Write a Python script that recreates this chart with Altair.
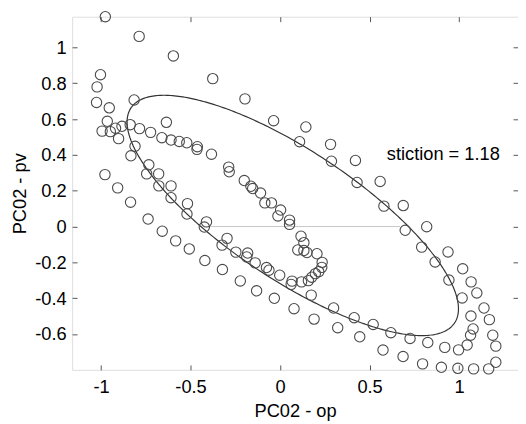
import altair as alt
import numpy as np
import pandas as pd

# ---- scatter data ----
op = [-0.976, -0.787, -0.596, -0.376, -0.196, -0.036, 0.144, 0.109, 0.282, 0.287,
      0.421, 0.430, 0.559, 0.580, 0.688, 0.699, 0.819, 0.791, 0.938, 0.866,
      1.020, 0.943, 1.067, 1.099, 1.017, 1.139, 1.066, 1.169, 1.078, 1.188,
      1.064, 1.045, 1.205, 1.205, 1.165, 1.081, 0.993, 0.901, 0.796, 0.687,
      0.575, 0.445, 0.322, 0.190, 0.078, -0.032, -0.131, -0.222, -0.322, -0.420,
      -0.507, -0.583, -0.658, -0.737, -0.835, -0.907, -0.978, 0.997, 0.920, 0.825,
      0.726, 0.619, 0.520, 0.414, 0.299, 0.174, -1.003, -1.022, -1.025, -0.954,
      -0.815, -0.635, -0.965, -0.994, -0.948, -0.919, -0.883, -0.837, -0.902, -0.785,
      -0.723, -0.660, -0.609, -0.563, -0.521, -0.462, -0.464, -0.383, -0.287, -0.284,
      -0.200, -0.163, -0.153, -0.109, -0.085, -0.048, 0.003, -0.012, 0.053, 0.053,
      0.117, 0.133, 0.099, 0.133, 0.150, 0.206, 0.235, 0.233, 0.216, 0.197,
      0.177, 0.158, 0.120, 0.067, 0.062, -0.002, -0.062, -0.076, -0.810, -0.833,
      -0.733, -0.745, -0.678, -0.677, -0.609, -0.609, -0.517, -0.520, -0.411, -0.423,
      -0.296, -0.324, -0.247, -0.181, -0.186, -0.139]
pv = [1.172, 1.062, 0.953, 0.826, 0.713, 0.591, 0.556, 0.474, 0.459, 0.365,
      0.369, 0.246, 0.252, 0.114, 0.117, -0.021, -0.001, -0.115, -0.142, -0.198,
      -0.236, -0.299, -0.309, -0.371, -0.399, -0.455, -0.500, -0.520, -0.572, -0.607,
      -0.607, -0.662, -0.668, -0.758, -0.795, -0.795, -0.792, -0.786, -0.767, -0.726,
      -0.690, -0.616, -0.565, -0.517, -0.459, -0.401, -0.359, -0.304, -0.240, -0.190,
      -0.125, -0.080, -0.026, 0.042, 0.136, 0.216, 0.290, -0.689, -0.675, -0.648,
      -0.625, -0.593, -0.547, -0.509, -0.455, -0.383, 0.848, 0.780, 0.693, 0.663,
      0.707, 0.582, 0.588, 0.533, 0.530, 0.549, 0.560, 0.569, 0.491, 0.547,
      0.526, 0.496, 0.483, 0.475, 0.468, 0.446, 0.431, 0.404, 0.332, 0.306,
      0.257, 0.225, 0.212, 0.187, 0.132, 0.132, 0.092, 0.059, 0.036, 0.012,
      -0.054, -0.090, -0.131, -0.134, -0.145, -0.152, -0.200, -0.228, -0.252, -0.263,
      -0.283, -0.302, -0.309, -0.305, -0.323, -0.272, -0.244, -0.229, 0.448, 0.395,
      0.345, 0.294, 0.294, 0.227, 0.227, 0.161, 0.128, 0.070, 0.026, -0.003,
      -0.066, -0.104, -0.143, -0.148, -0.170, -0.203]

# ---- fitted ellipse parameters (centre, semi-axes, rotation) ----
ell_cx, ell_cy = 0.071, 0.062
ell_a, ell_b = 1.085, 0.36
ell_angle_deg = -33.6

# ---- horizontal reference segment at pv = 0 ----
ref_op = [-0.40, 0.67]
ref_pv = [0.0, 0.0]

# ---- annotation ----
label_text = ["stiction = 1.18"]
label_op = [0.596]
label_pv = [0.37]

# ---- axes ----
x_ticks = [-1, -0.5, 0, 0.5, 1]
y_ticks = [-0.6, -0.4, -0.2, 0, 0.2, 0.4, 0.6, 0.8, 1]
x_domain = [-1.1614, 1.3289]
y_domain = [-0.8006, 1.1719]

W, H = 452, 358
FONT = "Liberation Sans"
FS = 18.5
AXC = "#555555"

scatter_df = pd.DataFrame({"op": op, "pv": pv})

th = np.deg2rad(ell_angle_deg)
t = np.linspace(0, 2 * np.pi, 361)
ell_df = pd.DataFrame({
    "op": ell_cx + ell_a * np.cos(t) * np.cos(th) - ell_b * np.sin(t) * np.sin(th),
    "pv": ell_cy + ell_a * np.cos(t) * np.sin(th) + ell_b * np.sin(t) * np.cos(th),
    "i": np.arange(len(t)),
})
ref_df = pd.DataFrame({"op": ref_op, "pv": ref_pv})
lab_df = pd.DataFrame({"op": label_op, "pv": label_pv, "txt": label_text})

x_enc = alt.X(
    "op:Q",
    scale=alt.Scale(domain=x_domain, nice=False, zero=False),
    axis=alt.Axis(
        values=x_ticks, labelExpr="'' + datum.value",
        title="PC02 - op", titleFont=FONT, titleFontSize=FS, titleFontWeight="normal",
        titleColor="black", titleX=W / 2, titleY=47, titleBaseline="alphabetic",
        titleAlign="center",
        labelFont=FONT, labelFontSize=FS, labelColor="black", labelPadding=23,
        labelBaseline="alphabetic", labelFlush=False, labelOverlap=False,
        ticks=False, tickSize=0, domain=False,
        grid=True, gridColor=AXC, gridWidth=1, gridOpacity=1,
        gridDash=[5, H - 10, 5, 2000],
    ),
)
y_enc = alt.Y(
    "pv:Q",
    scale=alt.Scale(domain=y_domain, nice=False, zero=False),
    axis=alt.Axis(
        values=y_ticks, labelExpr="'' + datum.value",
        title="PC02 - pv", titleFont=FONT, titleFontSize=FS, titleFontWeight="normal",
        titleColor="black", titleX=-47, titleY=H / 2, titleAngle=-90,
        titleBaseline="alphabetic", titleAlign="center",
        labelFont=FONT, labelFontSize=FS, labelColor="black", labelPadding=6,
        labelBaseline="middle", labelFlush=False, labelOverlap=False,
        ticks=False, tickSize=0, domain=False,
        grid=True, gridColor=AXC, gridWidth=1, gridOpacity=1,
        gridDash=[5, W - 10, 5, 2000],
    ),
)

ref_line = alt.Chart(ref_df).mark_line(color="#c8c8c8", strokeWidth=1).encode(x=x_enc, y=y_enc)
ellipse = alt.Chart(ell_df).mark_line(color="#333333", strokeWidth=1.2).encode(
    x=x_enc, y=y_enc, order="i:Q")
points = alt.Chart(scatter_df).mark_point(
    shape="circle", filled=False, size=110, color="#4a4a4a", strokeWidth=1.1, opacity=1
).encode(x=x_enc, y=y_enc)
label = alt.Chart(lab_df).mark_text(
    align="left", baseline="alphabetic", font=FONT, fontSize=FS, color="black"
).encode(x=x_enc, y=y_enc, text="txt:N")

chart = alt.layer(ref_line, ellipse, points, label).properties(
    width=W, height=H,
    autosize=alt.AutoSizeParams(type="none"),
    padding={"left": 65, "top": 6, "right": 0, "bottom": 50},
).configure_view(stroke=AXC, strokeWidth=1).configure(background="white")

chart.save("out.html", embed_options={"renderer": "svg", "actions": False})
